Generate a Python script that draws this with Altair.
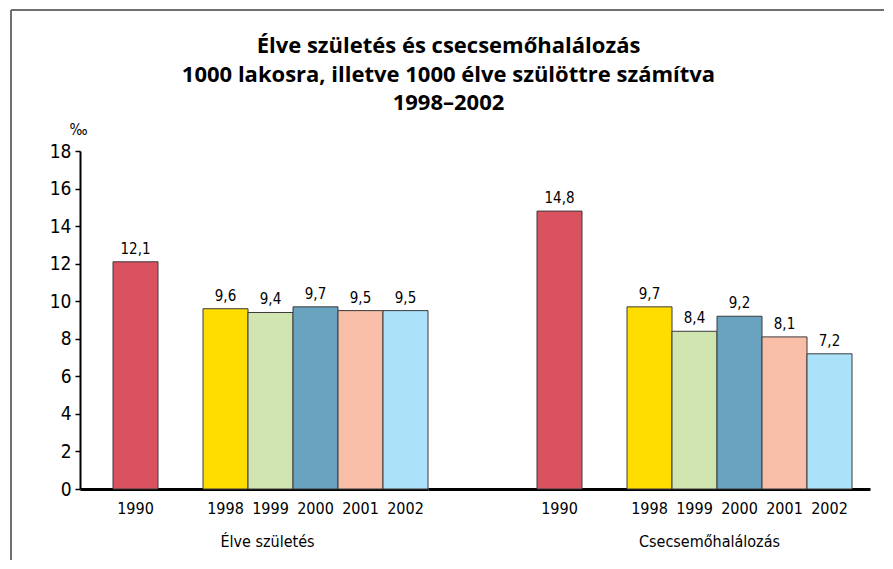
import altair as alt
import pandas as pd

# ---- data ----
years = ["1990", "1998", "1999", "2000", "2001", "2002"]
elve_szuletes = [12.1, 9.6, 9.4, 9.7, 9.5, 9.5]
csecsemohalalozas = [14.8, 9.7, 8.4, 9.2, 8.1, 7.2]
group_names = ["Élve születés", "Csecsemőhalálozás"]
title_lines = [
    "Élve születés és csecsemőhalálozás",
    "1000 lakosra, illetve 1000 élve szülöttre számítva",
    "1998–2002",
]
y_ticks = [0, 2, 4, 6, 8, 10, 12, 14, 16, 18]
unit_label = "‰"

# ---- styling ----
colors = ["#DA5260", "#FFDD00", "#D1E5B0", "#6AA3BF", "#F9BEA7", "#ABE1F9"]
slots_1 = ["1990", "_", "1998", "1999", "2000", "2001", "2002"]
slots_2 = ["_a", "_b", "1990", "_", "1998", "1999", "2000", "2001", "2002"]
FONT = "'DejaVu Sans Condensed', 'Liberation Sans Narrow', 'Liberation Sans', sans-serif"
FRAME = "#707070"


def panel(values, group, slots, width, align, outer, show_y, title_x, frame_left, frame_right):
    df = pd.DataFrame({"year": years, "value": values})
    base = alt.Chart(df)
    x = alt.X(
        "year:N",
        sort=slots,
        scale=alt.Scale(domain=slots, paddingInner=0, paddingOuter=outer, align=align),
        axis=alt.Axis(
            title=group,
            labelExpr="indexof(datum.value, '_') == 0 ? '' : datum.value",
            ticks=False,
            domainColor="black",
            domainWidth=3,
            labelFont=FONT,
            labelFontSize=16,
            labelColor="black",
            labelBaseline="alphabetic",
            labelPadding=24,
            labelAngle=0,
            labelOverlap=False,
            titleFont=FONT,
            titleFontSize=16,
            titleFontWeight="normal",
            titleColor="black",
            titleX=title_x,
            titleY=57,
            titleAlign="center",
            titleBaseline="alphabetic",
        ),
    )
    if show_y:
        yaxis = alt.Axis(
            values=y_ticks,
            title=unit_label,
            titleAngle=0,
            titleX=-2,
            titleY=-17,
            titleAlign="center",
            titleBaseline="alphabetic",
            titleFont=FONT,
            titleFontSize=15,
            titleFontWeight="normal",
            titleColor="black",
            labelFont=FONT,
            labelFontSize=19,
            labelColor="black",
            labelPadding=4,
            tickSize=5,
            tickColor="black",
            tickWidth=1.5,
            domainColor="black",
            domainWidth=2,
            grid=False,
        )
    else:
        yaxis = None
    y = alt.Y("value:Q", scale=alt.Scale(domain=[0, 18], nice=False), axis=yaxis)
    color = alt.Color("year:N", scale=alt.Scale(domain=years, range=colors), legend=None)

    bars = base.mark_bar(stroke="#3a3a3a", strokeWidth=1).encode(x=x, y=y, color=color)
    labels = base.transform_calculate(
        label="replace(format(datum.value, '.1f'), '.', ',')"
    ).mark_text(
        font=FONT, fontSize=15, baseline="alphabetic", dy=-8, color="black"
    ).encode(x=x, y=y, text="label:N")

    one = alt.Chart(pd.DataFrame({"k": [0]}))
    top_rule = one.mark_rule(color=FRAME, strokeWidth=2).encode(
        x=alt.value(frame_left), x2=alt.value(frame_right), y=alt.value(-141)
    )
    layers = [bars, labels, top_rule]
    if show_y:
        left_rule = one.mark_rule(color=FRAME, strokeWidth=2).encode(
            x=alt.value(-69), y=alt.value(-141), y2=alt.value(409)
        )
        layers.append(left_rule)
    return alt.layer(*layers).properties(width=width, height=338)


p1 = panel(elve_szuletes, group_names[0], slots_1, 348, 1.0, 33 / 90, True, 187, -69, 348)
p2 = panel(csecsemohalalozas, group_names[1], slots_2, 442, 19 / 37, 37 / 90, False, 281, 0, 456)

chart = alt.hconcat(p1, p2, spacing=0, bounds="flush").properties(
    title=alt.Title(
        title_lines,
        font="Open Sans",
        fontSize=22,
        fontWeight="bold",
        color="black",
        anchor="middle",
        baseline="top",
        lineHeight=28.5,
        dx=1,
        dy=110,
    ),
    padding={"left": 2, "top": 1, "right": 0, "bottom": 0},
).configure_view(stroke=None)

chart.save("out.html", embed_options={"renderer": "svg", "actions": False})
